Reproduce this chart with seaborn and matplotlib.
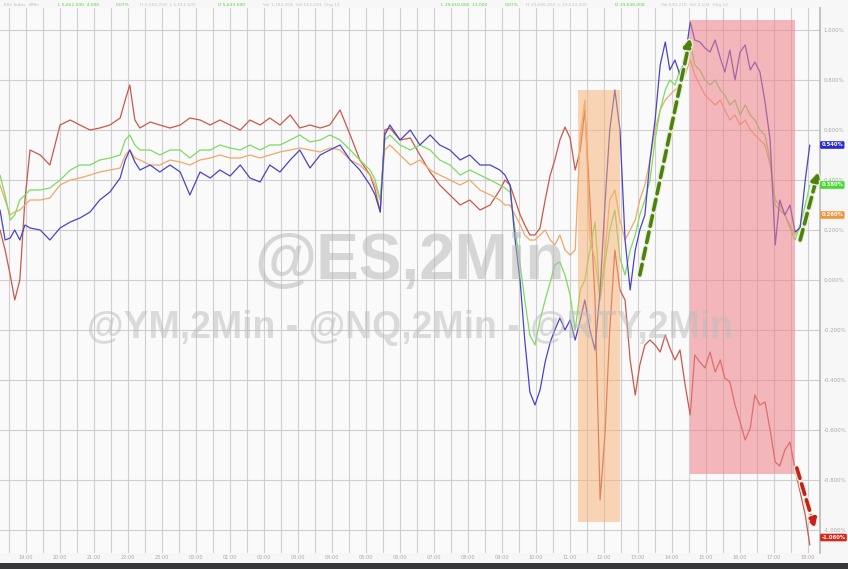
import seaborn as sns
import pandas as pd
import matplotlib.pyplot as plt
import matplotlib.patheffects as pe
from matplotlib.patches import Rectangle

# minutes since 18:15 (2-min bars, sampled)
minutes = [0, 9, 18, 26, 35, 44, 53, 71, 88, 106, 124, 141, 159, 176, 194, 212, 221, 229, 238,
           247, 265, 282, 300, 318, 335, 353, 371, 388, 406, 424, 441, 459, 476, 494, 512, 529,
           547, 565, 582, 600, 618, 635, 653, 662, 671, 679, 688, 706, 724, 741, 759, 776, 794,
           812, 829, 847, 865, 882, 891, 900, 909, 918, 926, 935, 944, 953, 962, 971, 979, 988,
           997, 1006, 1015, 1024, 1032, 1041, 1050, 1059, 1068, 1076, 1085, 1094, 1103, 1112,
           1121, 1129, 1138, 1147, 1156, 1165, 1174, 1182, 1191, 1200, 1209, 1218, 1226, 1235,
           1244, 1253, 1262, 1271, 1279, 1288, 1297, 1306, 1315, 1324, 1332, 1341, 1350, 1359,
           1368, 1376, 1385, 1394, 1403, 1412, 1421, 1429]

# % change from open
rty = [0.2, 0.12, 0.02, -0.08, 0.0, 0.32, 0.52,
       0.5, 0.46, 0.62, 0.64, 0.62, 0.6, 0.608, 0.62, 0.648,
       0.72, 0.78, 0.64,
       0.608, 0.632, 0.62, 0.608, 0.62, 0.648, 0.64, 0.62, 0.64, 0.62, 0.6, 0.64, 0.62, 0.648,
       0.62, 0.66, 0.608, 0.62, 0.608, 0.62, 0.68, 0.58, 0.48, 0.42,
       0.36, 0.272, 0.6, 0.608,
       0.56, 0.568, 0.5, 0.432, 0.38, 0.34, 0.3, 0.32, 0.28, 0.3, 0.36,
       0.4, 0.38, 0.32, 0.26, 0.22, 0.18, 0.18, 0.208, 0.32, 0.42,
       0.48, 0.56, 0.612, 0.568, 0.44, 0.52, 0.68, 0.32, -0.08, -0.88,
       -0.6, -0.2, 0.12, -0.04, -0.08, -0.32, -0.46, -0.34, -0.26, -0.24,
       -0.26, -0.288, -0.22, -0.272, -0.32, -0.28, -0.42, -0.54, -0.3, -0.328,
       -0.352, -0.288, -0.368, -0.32, -0.392, -0.408, -0.5, -0.568, -0.64, -0.592,
       -0.46, -0.5, -0.488, -0.6, -0.728, -0.744, -0.68, -0.648, -0.76, -0.848,
       -0.94, -1.06]

nq = [0.28, 0.16, 0.168, 0.2, 0.16, 0.22, 0.208,
      0.2, 0.16, 0.208, 0.232, 0.248, 0.272, 0.32, 0.352, 0.408,
      0.48, 0.52, 0.472,
      0.44, 0.46, 0.432, 0.46, 0.432, 0.34, 0.432, 0.408, 0.44, 0.416, 0.46, 0.408, 0.392, 0.46,
      0.432, 0.48, 0.52, 0.448, 0.5, 0.52, 0.54, 0.48, 0.44, 0.38,
      0.34, 0.272, 0.58, 0.62,
      0.56, 0.6, 0.54, 0.58, 0.54, 0.52, 0.48, 0.5, 0.46, 0.46, 0.44,
      0.42, 0.38, 0.16, -0.008, -0.24, -0.448, -0.5, -0.44, -0.328, -0.248,
      -0.2, -0.152, -0.2, -0.16, -0.24, -0.16, -0.08, -0.2, -0.28, -0.04,
      0.32, 0.6, 0.76, 0.6, 0.16, -0.04, 0.12, 0.2, 0.26, 0.48,
      0.64, 0.86, 0.952, 0.84, 0.88, 0.82, 0.888, 1.032, 0.96, 0.952,
      0.928, 0.912, 0.96, 0.888, 0.832, 0.92, 0.8, 0.912, 0.94, 0.84,
      0.872, 0.832, 0.712, 0.56, 0.14, 0.32, 0.26, 0.3, 0.192, 0.208,
      0.4, 0.54]

es = [0.42, 0.34, 0.24, 0.26, 0.32, 0.34, 0.36,
      0.36, 0.368, 0.4, 0.44, 0.46, 0.46, 0.48, 0.488, 0.5,
      0.56, 0.58, 0.54,
      0.52, 0.52, 0.5, 0.52, 0.52, 0.488, 0.52, 0.52, 0.54, 0.528, 0.52, 0.54, 0.52, 0.54,
      0.54, 0.56, 0.58, 0.552, 0.56, 0.58, 0.56, 0.52, 0.48, 0.44,
      0.4, 0.32, 0.56, 0.58,
      0.54, 0.52, 0.54, 0.52, 0.48, 0.46, 0.42, 0.44, 0.42, 0.4, 0.38,
      0.368, 0.352, 0.2, 0.06, -0.08, -0.22, -0.26, -0.16, -0.08, -0.008,
      0.06, 0.072, 0.02, -0.06, -0.2, -0.04, 0.0, 0.12, 0.232, -0.08,
      0.072, 0.2, 0.28, 0.088, 0.02, 0.12, 0.18, 0.26, 0.32, 0.4,
      0.56, 0.68, 0.76, 0.8, 0.78, 0.84, 0.872, 0.952, 0.86, 0.84,
      0.8, 0.78, 0.8, 0.76, 0.74, 0.7, 0.72, 0.66, 0.7, 0.66,
      0.64, 0.6, 0.58, 0.48, 0.3, 0.28, 0.26, 0.208, 0.16, 0.22,
      0.3, 0.38]

ym = [0.38, 0.32, 0.26, 0.272, 0.28, 0.3, 0.32,
      0.32, 0.328, 0.38, 0.4, 0.408, 0.42, 0.432, 0.44, 0.448,
      0.5, 0.52, 0.488,
      0.48, 0.46, 0.46, 0.48, 0.472, 0.46, 0.48, 0.488, 0.5, 0.488, 0.488, 0.5, 0.488, 0.5,
      0.512, 0.52, 0.528, 0.52, 0.512, 0.528, 0.52, 0.48, 0.46, 0.42,
      0.38, 0.32, 0.52, 0.54,
      0.5, 0.46, 0.48, 0.44, 0.42, 0.4, 0.38, 0.4, 0.36, 0.34, 0.32,
      0.3, 0.3, 0.26, 0.22, 0.18, 0.16, 0.16, 0.18, 0.2, 0.16,
      0.14, 0.18, 0.12, 0.1, 0.12, 0.58, 0.72, 0.16, 0.08, -0.08,
      0.12, 0.32, 0.36, 0.24, 0.16, 0.2, 0.24, 0.32, 0.38, 0.48,
      0.6, 0.68, 0.72, 0.74, 0.76, 0.78, 0.82, 0.88, 0.82, 0.78,
      0.74, 0.72, 0.7, 0.72, 0.68, 0.64, 0.66, 0.62, 0.64, 0.6,
      0.58, 0.56, 0.54, 0.46, 0.32, 0.3, 0.26, 0.22, 0.18, 0.22,
      0.24, 0.26]

names = ["RTY", "YM", "ES", "NQ"]
line_colors = {"NQ": "#4a44c6", "ES": "#7ddc62", "YM": "#f0a868", "RTY": "#c9584c"}
tag_colors = {"NQ": "#2a2ad0", "ES": "#44dc30", "YM": "#f0963c", "RTY": "#d8281e"}

frames = []
for nm, vals in zip(names, [rty, ym, es, nq]):
    frames.append(pd.DataFrame({"minute": minutes, "change": vals, "index": nm}))
df = pd.concat(frames)

sns.set_style("whitegrid")
fig = plt.figure(figsize=(8.48, 5.69), dpi=100)
fig.patch.set_facecolor("#f7f7f7")
ax = fig.add_axes([0, 16 / 569, 820 / 848, 545 / 569])
ax.set_facecolor("#fafafa")

sns.lineplot(data=df, x="minute", y="change", hue="index", hue_order=names,
             palette=line_colors, linewidth=0.9, legend=False, ax=ax, zorder=2)

ax.set_xlim(0, 1447)
ax.set_ylim(-1.092, 1.088)

# shaded boxes
ax.add_patch(Rectangle((1020, -0.968), 74, 1.728, color="#f7b070", alpha=0.5, lw=0, zorder=3))
ax.add_patch(Rectangle((1218, -0.776), 185, 1.816, color="#ee8088", alpha=0.55, lw=0, zorder=3))

# watermark
ax.text(0.5, 0.534, "@ES,2Min", transform=ax.transAxes, fontsize=46, fontweight="bold",
        family="Liberation Sans", color="#b4b4b4", alpha=0.5, ha="center", va="center", zorder=4)
ax.text(0.5, 0.413, "@YM,2Min - @NQ,2Min - @RTY,2Min", transform=ax.transAxes, fontsize=27,
        fontweight="bold", family="Liberation Sans", color="#bcbcbc", alpha=0.5,
        ha="center", va="center", zorder=4)

# arrows
outline = [pe.Stroke(linewidth=4.5, foreground="#e8f0d8"), pe.Normal()]
for start, end, col in [((1129, 0.02), (1218, 0.968), "#4f7f10"),
                        ((1412, 0.16), (1444, 0.432), "#4f7f10"),
                        ((1406, -0.752), (1438, -0.992), "#c81e1e")]:
    arr = ax.annotate("", xy=end, xytext=start,
                      arrowprops=dict(arrowstyle="-|>", linestyle=(0, (3, 1.6)), lw=2.6,
                                      color=col, mutation_scale=12, shrinkA=0, shrinkB=0),
                      zorder=6, annotation_clip=False)
    arr.arrow_patch.set_path_effects(outline)

# last value tags on the right
for nm, vals in zip(names, [rty, ym, es, nq]):
    last = vals[-1]
    ypos = max(last, -1.03)
    ax.annotate(f"{last:.3f}%", xy=(1.0, ypos), xycoords=("axes fraction", "data"),
                xytext=(1.0, 0), textcoords="offset points", ha="left", va="center",
                fontsize=3.8, color="white", fontweight="bold",
                bbox=dict(boxstyle="round,pad=0.25", fc=tag_colors[nm], ec="none"),
                annotation_clip=False, zorder=7)

# axes styling
yticks = [-1.0, -0.8, -0.6, -0.4, -0.2, 0.0, 0.2, 0.4, 0.6, 0.8, 1.0]
ax.set_yticks(yticks)
ax.set_yticklabels([f"{v:.3f}%" for v in yticks])
ax.yaxis.tick_right()
ax.tick_params(axis="y", labelsize=3.9, labelcolor="#a8a8a8", length=0, pad=2.5)

xticks = list(range(15, 1447, 30))
xlabels = []
for m in xticks:
    tot = (18 * 60 + 15 + m) % 1440
    xlabels.append(f"{tot // 60:02d}:00" if tot % 60 == 0 else "")
ax.set_xticks(xticks)
ax.set_xticklabels(xlabels)
ax.tick_params(axis="x", labelsize=3.6, labelcolor="#a8a8a8", length=0, pad=1.5)
ax.set_xlabel("")
ax.set_ylabel("")
ax.grid(True, color="#cfcfcf", lw=0.8)
for s in ["left", "top", "bottom"]:
    ax.spines[s].set_visible(False)
ax.spines["right"].set_color("#b8b8b8")
ax.spines["right"].set_linewidth(1.2)

# header strip
hdr = [(0.005, "ES1 Index  2Min", "#bcbcbc"), (0.068, "L 5,652.000  4.000", "#55d040"),
       (0.137, "0.07%", "#55d040"), (0.165, "H 5,660.250  L 5,611.500", "#c4c4c4"),
       (0.257, "O 5,633.500", "#55d040"), (0.31, "Val 1,182,404  Vol 512,233  Chg 14", "#c4c4c4"),
       (0.52, "L 19,610.000  11.000", "#55d040"), (0.595, "0.07%", "#55d040"),
       (0.62, "H 19,690.250  L 19,512.000", "#c4c4c4"), (0.725, "O 19,530.000", "#55d040"),
       (0.78, "Val 640,210  Vol 3,104  Chg 22", "#c4c4c4")]
for xf, txt, col in hdr:
    fig.text(xf, 0.992, txt, fontsize=3.2, color=col, ha="left", va="center")

fig.add_artist(Rectangle((0, 0), 1, 6 / 569, transform=fig.transFigure, color="#38383c", lw=0))

fig.savefig("out.png", dpi=100, facecolor=fig.get_facecolor())
